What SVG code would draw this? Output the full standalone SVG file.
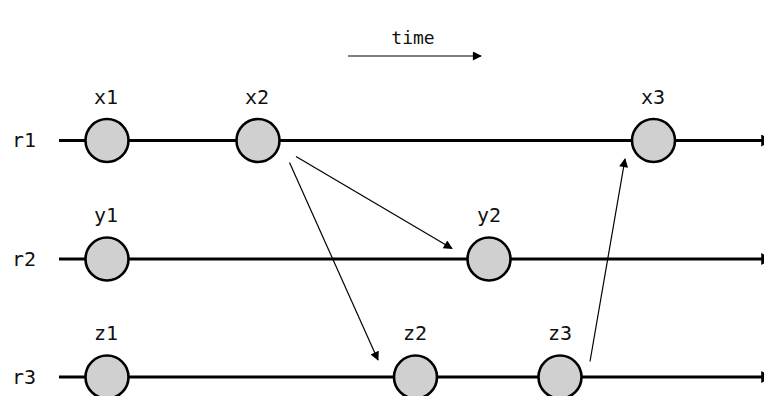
<svg xmlns="http://www.w3.org/2000/svg" width="764" height="396" viewBox="0 0 764 396">
<style>
text{font-family:"DejaVu Sans Mono","Liberation Mono",monospace;font-size:20px;fill:#111}
.lbl{text-anchor:middle}
.tl{stroke:#000;stroke-width:3;fill:none}
.msg{stroke:#000;stroke-width:1.2;fill:none}
.ev{fill:#d0d0d0;stroke:#000;stroke-width:2.6}
</style>
<defs>
<marker id="ah" viewBox="0 0 10 10" refX="9" refY="5" markerWidth="12" markerHeight="9" markerUnits="userSpaceOnUse" orient="auto"><path d="M0,0 L10,5 L0,10 z" fill="#000"/></marker>
<marker id="ahb" viewBox="0 0 10 10" refX="9" refY="5" markerWidth="4" markerHeight="4" orient="auto"><path d="M0,0 L10,5 L0,10 z" fill="#000"/></marker>
</defs>
<g id="time"><text x="413" y="44" class="lbl" style="font-size:18px">time</text><line x1="348" y1="56" x2="481" y2="56" class="msg" marker-end="url(#ah)"/></g>
<g id="timelines">
<text x="12" y="147">r1</text><line x1="59" y1="140.5" x2="772" y2="140.5" class="tl" marker-end="url(#ahb)"/>
<text x="12" y="266">r2</text><line x1="59" y1="259" x2="772" y2="259" class="tl" marker-end="url(#ahb)"/>
<text x="12" y="384">r3</text><line x1="59" y1="377" x2="772" y2="377" class="tl" marker-end="url(#ahb)"/>
</g>
<g id="connectors">
<line x1="296" y1="156.5" x2="452" y2="248.5" class="msg" marker-end="url(#ah)"/>
<line x1="289.5" y1="162.5" x2="378" y2="360" class="msg" marker-end="url(#ah)"/>
<line x1="590" y1="361.5" x2="625" y2="159" class="msg" marker-end="url(#ah)"/>
</g>
<g id="x1"><circle cx="107" cy="140.5" r="21.5" class="ev"/><text x="106" y="104" class="lbl">x1</text></g>
<g id="x2"><circle cx="258" cy="140.5" r="21.5" class="ev"/><text x="257" y="104" class="lbl">x2</text></g>
<g id="x3"><circle cx="653.5" cy="140.5" r="21.5" class="ev"/><text x="653" y="104" class="lbl">x3</text></g>
<g id="y1"><circle cx="107" cy="259" r="21.5" class="ev"/><text x="106" y="222" class="lbl">y1</text></g>
<g id="y2"><circle cx="489" cy="259" r="21.5" class="ev"/><text x="489" y="222" class="lbl">y2</text></g>
<g id="z1"><circle cx="107" cy="377" r="21.5" class="ev"/><text x="106" y="340" class="lbl">z1</text></g>
<g id="z2"><circle cx="415.5" cy="377" r="21.5" class="ev"/><text x="415" y="340" class="lbl">z2</text></g>
<g id="z3"><circle cx="560" cy="377" r="21.5" class="ev"/><text x="560" y="340" class="lbl">z3</text></g>
</svg>
